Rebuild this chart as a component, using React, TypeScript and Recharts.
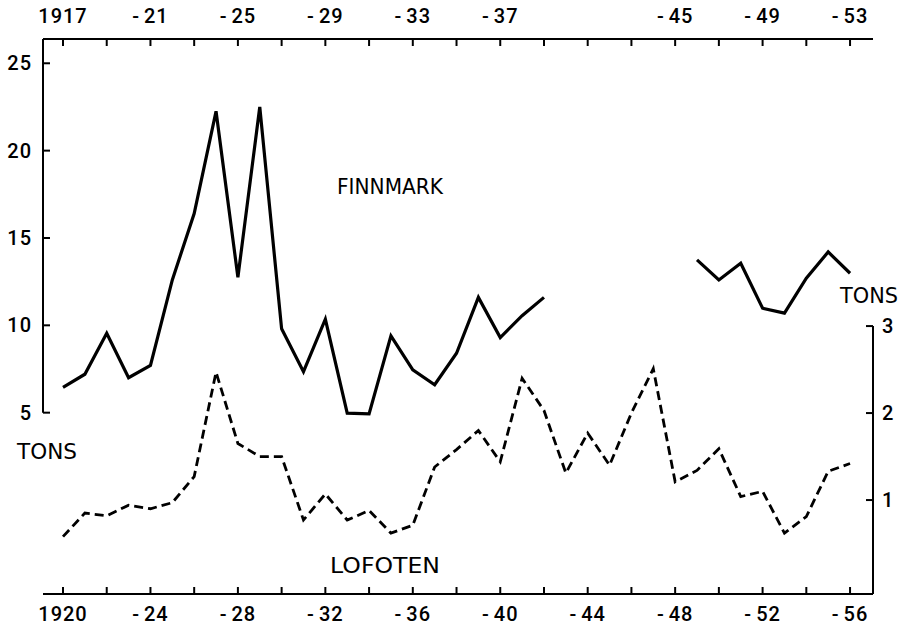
import React from 'react';
import { LineChart, Line, XAxis, YAxis, ReferenceLine } from 'recharts';

// Lofoten years (bottom axis) and Finnmark years (top axis)
const lofotenYears = [1920, 1921, 1922, 1923, 1924, 1925, 1926, 1927, 1928, 1929, 1930, 1931, 1932, 1933, 1934, 1935, 1936, 1937, 1938, 1939, 1940, 1941, 1942, 1943, 1944, 1945, 1946, 1947, 1948, 1949, 1950, 1951, 1952, 1953, 1954, 1955, 1956];
const finnmarkYears = [1917, 1918, 1919, 1920, 1921, 1922, 1923, 1924, 1925, 1926, 1927, 1928, 1929, 1930, 1931, 1932, 1933, 1934, 1935, 1936, 1937, 1938, 1939, 1940, 1941, 1942, 1943, 1944, 1945, 1946, 1947, 1948, 1949, 1950, 1951, 1952, 1953];

// Finnmark (left axis, tons) – gap 1940–1945
const finnmarkTons = [6.45, 7.2, 9.55, 7.0, 7.7, 12.6, 16.4, 22.25, 12.75, 22.5, 9.8, 7.35, 10.35, 4.97, 4.93, 9.4, 7.45, 6.6, 8.4, 11.6, 9.3, 10.55, 11.6, null, null, null, null, null, null, 13.75, 12.6, 13.55, 10.98, 10.7, 12.7, 14.2, 12.98];
// Lofoten (right axis, tons)
const lofotenTons = [0.58, 0.85, 0.82, 0.94, 0.9, 0.97, 1.27, 2.47, 1.65, 1.5, 1.5, 0.77, 1.07, 0.77, 0.88, 0.62, 0.71, 1.38, 1.58, 1.8, 1.44, 2.4, 2.03, 1.31, 1.77, 1.4, 2.0, 2.51, 1.21, 1.34, 1.59, 1.04, 1.1, 0.62, 0.81, 1.33, 1.42];

const bottomTicks = [1920, 1922, 1924, 1926, 1928, 1930, 1932, 1934, 1936, 1938, 1940, 1942, 1944, 1946, 1948, 1950, 1952, 1954, 1956];
const bottomLabelYears = [1920, 1924, 1928, 1932, 1936, 1940, 1944, 1948, 1952, 1956];
const bottomLabelTexts = ['1920', '-24', '-28', '-32', '-36', '-40', '-44', '-48', '-52', '-56'];

const topTicks = [1917, 1919, 1921, 1923, 1925, 1927, 1929, 1931, 1933, 1935, 1937, 1939, 1941, 1943, 1945, 1947, 1949, 1951, 1953];
const topLabelYears = [1917, 1921, 1925, 1929, 1933, 1937, 1945, 1949, 1953];
const topLabelTexts = ['1917', '-21', '-25', '-29', '-33', '-37', '-45', '-49', '-53'];

const leftTicks = [5, 10, 15, 20, 25];
const rightTicks = [1, 2, 3];

const BOTTOM_DOMAIN: [number, number] = [1919.085, 1957.05];
const TOP_DOMAIN: [number, number] = [1916.085, 1954.05];
const LEFT_DOMAIN: [number, number] = [-5.38, 26.39];
const RIGHT_DOMAIN: [number, number] = [-0.08, 6.3];

const data = lofotenYears.map((year, i) => ({
  year,
  topYear: finnmarkYears[i],
  finnmark: finnmarkTons[i],
  lofoten: lofotenTons[i],
}));

const FONT = '"DejaVu Sans", sans-serif';
const TICK_FONT = 'Roboto, "DejaVu Sans", sans-serif';

const makeTick = (
  format: (v: number) => string,
  anchor: 'start' | 'middle' | 'end',
  dy: number
) => (props: any) => {
  const { x, y, payload } = props;
  const label = format(payload.value);
  if (!label) return <g />;
  const dash = label.startsWith('-');
  return (
    <text x={x} y={y + dy} textAnchor={anchor} fontFamily={TICK_FONT} fontSize={20} fontWeight={500} fill="#000" letterSpacing={1}>
      {dash ? (
        <>
          <tspan>-</tspan>
          <tspan dx={4}>{label.slice(1)}</tspan>
        </>
      ) : (
        label
      )}
    </text>
  );
};

const labelFor = (years: number[], texts: string[]) => (v: number) => {
  const idx = years.indexOf(v);
  return idx >= 0 ? texts[idx] : '';
};
const plain = (v: number) => String(v);

const tickLine = { stroke: '#000', strokeWidth: 2 };

export default function App() {
  return (
    <div style={{ position: 'absolute', left: 0, top: 0, width: 902, height: 629, background: '#fff' }}>
      <LineChart width={902} height={629} data={data} margin={{ top: 0, right: 0, bottom: 0, left: 0 }}>
        <XAxis
          xAxisId="bottom"
          dataKey="year"
          type="number"
          orientation="bottom"
          domain={BOTTOM_DOMAIN}
          allowDataOverflow
          ticks={bottomTicks}
          interval={0}
          height={35}
          tickSize={-7}
          tickMargin={16}
          tick={makeTick(labelFor(bottomLabelYears, bottomLabelTexts), 'middle', 18)}
          axisLine={{ stroke: '#000', strokeWidth: 2 }}
          tickLine={tickLine}
        />
        <XAxis
          xAxisId="top"
          dataKey="topYear"
          type="number"
          orientation="top"
          domain={TOP_DOMAIN}
          allowDataOverflow
          ticks={topTicks}
          interval={0}
          height={39}
          tickSize={-7}
          tickMargin={23}
          tick={makeTick(labelFor(topLabelYears, topLabelTexts), 'middle', 0)}
          axisLine={{ stroke: '#000', strokeWidth: 2 }}
          tickLine={tickLine}
        />
        <YAxis
          yAxisId="left"
          orientation="left"
          type="number"
          domain={LEFT_DOMAIN}
          allowDataOverflow
          ticks={leftTicks}
          interval={0}
          width={43}
          tickSize={-7}
          tickMargin={18}
          tick={makeTick(plain, 'end', 7)}
          axisLine={false}
          tickLine={tickLine}
        />
        <YAxis
          yAxisId="right"
          orientation="right"
          type="number"
          domain={RIGHT_DOMAIN}
          allowDataOverflow
          ticks={rightTicks}
          interval={0}
          width={29}
          tickSize={-7}
          tickMargin={16}
          tick={makeTick(plain, 'start', 7)}
          axisLine={false}
          tickLine={tickLine}
        />
        <ReferenceLine
          xAxisId="bottom"
          yAxisId="left"
          ifOverflow="visible"
          segment={[{ x: BOTTOM_DOMAIN[0], y: leftTicks[0] }, { x: BOTTOM_DOMAIN[0], y: LEFT_DOMAIN[1] }]}
          stroke="#000"
          strokeWidth={2}
        />
        <ReferenceLine
          xAxisId="bottom"
          yAxisId="right"
          ifOverflow="visible"
          segment={[{ x: BOTTOM_DOMAIN[1], y: RIGHT_DOMAIN[0] }, { x: BOTTOM_DOMAIN[1], y: rightTicks[rightTicks.length - 1] }]}
          stroke="#000"
          strokeWidth={2}
        />
        <Line
          xAxisId="top"
          yAxisId="left"
          type="linear"
          dataKey="finnmark"
          stroke="#000"
          strokeWidth={3.2}
          dot={false}
          activeDot={false}
          isAnimationActive={false}
        />
        <Line
          xAxisId="bottom"
          yAxisId="right"
          type="linear"
          dataKey="lofoten"
          stroke="#000"
          strokeWidth={2.8}
          strokeDasharray="9 5"
          dot={false}
          activeDot={false}
          isAnimationActive={false}
        />
      </LineChart>
      <svg width={902} height={629} style={{ position: 'absolute', left: 0, top: 0, pointerEvents: 'none' }}>
        <g fontFamily={FONT} fill="#000" fontSize={22}>
          <text x={337} y={194} textLength={106} lengthAdjust="spacingAndGlyphs">FINNMARK</text>
          <text x={330} y={573} textLength={110} lengthAdjust="spacingAndGlyphs">LOFOTEN</text>
          <text x={17} y={459} textLength={60} lengthAdjust="spacingAndGlyphs">TONS</text>
          <text x={840} y={303} textLength={58} lengthAdjust="spacingAndGlyphs">TONS</text>
        </g>
      </svg>
    </div>
  );
}
